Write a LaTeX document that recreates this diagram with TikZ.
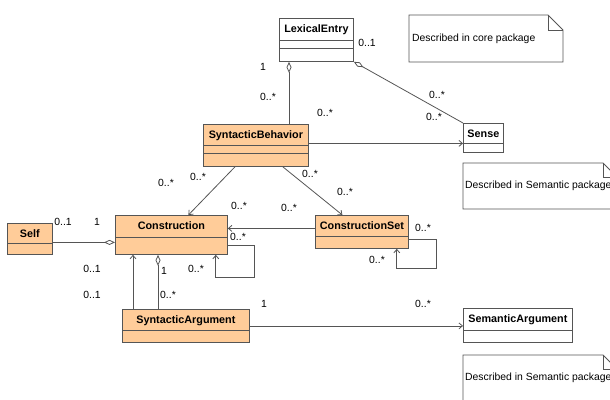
\documentclass[tikz,border=0pt]{standalone}
\usepackage{fontspec}
\setmainfont{Liberation Sans}
\usetikzlibrary{arrows.meta}

\definecolor{clsorange}{RGB}{255,204,153}
\definecolor{linegray}{RGB}{85,85,85}

\tikzset{
  cls/.style={draw=linegray, line width=0.8pt, inner sep=0pt, anchor=north west},
  hot/.style={cls, fill=clsorange},
  plainbox/.style={cls, fill=white},
  title/.style={font=\bfseries\fontsize{10.8}{12}\selectfont, inner sep=0pt, anchor=base},
  mult/.style={font=\fontsize{10.4}{12}\selectfont, inner sep=0pt},
  notetxt/.style={font=\fontsize{10.4}{12}\selectfont, inner sep=0pt, anchor=west},
  conn/.style={draw=linegray, line width=0.8pt},
  nav/.style={conn, -{Straight Barb[length=3.5pt,width=6pt]}},
  agg/.style={conn, {Diamond[open,length=11pt,width=5pt]}-},
}

\begin{document}
\begin{tikzpicture}[x=1pt, y=-1pt]
\useasboundingbox (0,0) rectangle (610,399);

%%%%% Classes %%%%%
\node[plainbox, minimum width=74pt, minimum height=43pt] (lex) at (279,18) {};
\node[plainbox, minimum width=40pt, minimum height=29pt] (sense) at (463,123) {};
\node[hot, minimum width=105pt, minimum height=42pt] (sb) at (203,124) {};
\node[hot, minimum width=112pt, minimum height=39pt] (cons) at (115,215) {};
\node[hot, minimum width=93pt, minimum height=33pt] (cset) at (315,215) {};
\node[hot, minimum width=45pt, minimum height=31pt] (self) at (7,223) {};
\node[hot, minimum width=127pt, minimum height=33pt] (sa) at (122,309) {};
\node[plainbox, minimum width=109pt, minimum height=34pt] (semarg) at (463,308) {};

\node[title] (lext) at ([yshift=-14pt]lex.north) {LexicalEntry};
\node[title] (senset) at ([yshift=-14pt]sense.north) {Sense};
\node[title] (sbt) at ([yshift=-14pt]sb.north) {SyntacticBehavior};
\node[title] (const) at ([yshift=-14pt]cons.north) {Construction};
\node[title] (csett) at ([yshift=-14pt]cset.north) {ConstructionSet};
\node[title] (selft) at ([yshift=-14pt]self.north) {Self};
\node[title] (sat) at ([yshift=-14pt]sa.north) {SyntacticArgument};
\node[title] (semargt) at ([yshift=-14pt]semarg.north) {SemanticArgument};

% compartments
\foreach \c/\d in {lex/22,lex/30,sense/20,sb/21,sb/29,cons/22,cset/21,self/20,sa/21,semarg/22}{
\draw[conn] ([yshift=-\d pt]\c.north west)--([yshift=-\d pt]\c.north east);
}

%%%%% Notes %%%%%
\draw[conn] (409,15)--(548,15)--(563,30)--(563,62)--(409,62)--cycle;
\draw[conn] (548,15)--(548,30)--(563,30);
\draw[conn] (463,163)--(603,163)--(617,177)--(617,209)--(463,209)--cycle;
\draw[conn] (603,163)--(603,177)--(617,177);
\draw[conn] (463,355)--(603,355)--(617,369)--(617,405)--(463,405)--cycle;
\draw[conn] (603,355)--(603,369)--(617,369);
\node[notetxt] (corenote) at (412,39) {Described in core package};
\node[notetxt] (semnote) at (465,186) {Described in Semantic package};
\node[notetxt] (semnotetwo) at (465,378) {Described in Semantic package};

%%%%% Connectors %%%%%
\coordinate (lexfoot) at ([xshift=10pt]lex.south west);
\draw[agg] (lexfoot)--(lexfoot |- sb.north);
\draw[agg] (lex.south east)--(sense.north west);
\coordinate (sbr) at ([yshift=2pt]sb.east);
\draw[nav] (sbr)--(sbr -| sense.west);
\draw[nav] ([xshift=32pt]sb.south west)--([xshift=17pt]cons.north);
\draw[nav] ([xshift=-26pt]sb.south east)--([xshift=-19.5pt]cset.north);
\coordinate (csetl) at ([yshift=3.5pt]cset.west);
\draw[nav] (csetl)--(csetl -| cons.east);
\coordinate (consr) at ([yshift=-10.5pt]cons.east);
\coordinate (consb) at ([xshift=-12pt]cons.south east);
\draw[nav] (consr)--++(27,0) |- ([yshift=-23pt]consb)--(consb);
\coordinate (csetr) at ([yshift=-7.5pt]cset.east);
\coordinate (csetb) at ([xshift=-12pt]cset.south east);
\draw[nav] (csetr)--++(28,0) |- ([yshift=-20pt]csetb)--(csetb);
\coordinate (selfr) at ([yshift=-3.5pt]self.east);
\draw[agg] (selfr -| cons.west)--(selfr);
\coordinate (saup) at ([xshift=11pt]sa.north west);
\draw[nav] (saup)--(saup |- cons.south);
\coordinate (saagg) at ([xshift=36pt]sa.north west);
\draw[agg] (saagg |- cons.south)--(saagg);
\draw[nav] (sa.east)--(sa.east -| semarg.west);

%%%%% Multiplicities %%%%%
\foreach \x/\y/\txt [count=\k] in {367/43/0..1, 263/67/1, 268/97/0..*, 325/113/0..*,
  437/95/0..*, 434/117/0..*, 166/183/0..*, 198/177/0..*, 310/174/0..*, 345/192/0..*,
  239/206/0..*, 289/208/0..*, 63/222/0..1, 97/222/1, 238/237/0..*, 196/269/0..*,
  423/228/0..*, 377/260/0..*, 92/269/0..1, 92/295/0..1, 164/271/1, 168/295/0..*,
  264/304/1, 423/304/0..*}{
\node[mult] (m\k) at (\x,\y) {\txt};
}
\end{tikzpicture}
\end{document}
